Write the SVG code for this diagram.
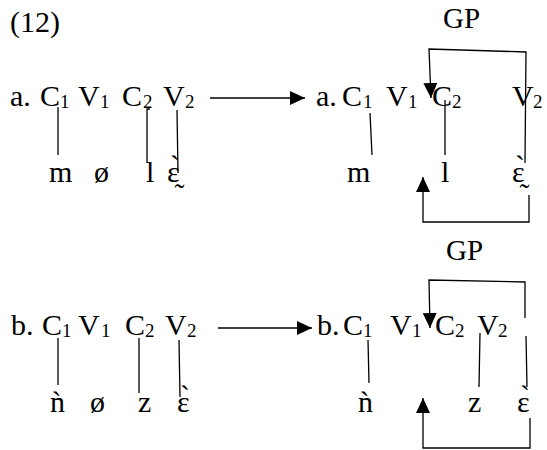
<svg xmlns="http://www.w3.org/2000/svg" width="547" height="450" viewBox="0 0 547 450">
<style>
text{font-family:"Liberation Serif","Times New Roman",serif;fill:#000}
.m{font-size:30px}
.s{font-size:19px}
.t{font-size:30px}
.g{font-size:29px}
line,path{stroke:#000;stroke-width:1.3;fill:none}
</style>
<defs>
<marker id="ah" markerUnits="userSpaceOnUse" markerWidth="16" markerHeight="16" viewBox="0 0 16 16" refX="15" refY="8" orient="auto">
<path d="M0,1 L15,8 L0,15 Z" style="fill:#000;stroke:none"/>
</marker>
</defs>
<rect width="547" height="450" fill="#fff"/>
<text class="t" x="10" y="32">(12)</text>

<g id="row-a-left">
<text class="m" x="10" y="106">a.</text>
<text class="m" x="40" y="106">C</text><text class="s" x="60" y="108">1</text>
<text class="m" x="78" y="106">V</text><text class="s" x="100" y="108">1</text>
<text class="m" x="122" y="106">C</text><text class="s" x="143" y="108">2</text>
<text class="m" x="163" y="106">V</text><text class="s" x="185" y="108">2</text>
<text class="m" x="49" y="182">m</text>
<text class="m" x="94" y="182">ø</text>
<text class="m" x="146" y="182">l</text>
<text class="m" x="167" y="182">ɛ̰̀</text>
</g>

<g id="row-a-right">
<text class="m" x="316" y="106">a.</text>
<text class="m" x="342" y="106">C</text><text class="s" x="363" y="108">1</text>
<text class="m" x="386" y="106">V</text><text class="s" x="408" y="108">1</text>
<text class="m" x="432" y="106">C</text><text class="s" x="452" y="108">2</text>
<text class="m" x="512" y="106">V</text><text class="s" x="533" y="108">2</text>
<text class="m" x="347" y="182">m</text>
<text class="m" x="441" y="182">l</text>
<text class="m" x="512" y="182">ɛ̰̀</text>
<text class="g" x="443" y="28">GP</text>
</g>

<g id="row-b-left">
<text class="m" x="11" y="335">b.</text>
<text class="m" x="42" y="335">C</text><text class="s" x="62" y="337">1</text>
<text class="m" x="78" y="335">V</text><text class="s" x="101" y="337">1</text>
<text class="m" x="125" y="335">C</text><text class="s" x="145" y="337">2</text>
<text class="m" x="165" y="335">V</text><text class="s" x="187" y="337">2</text>
<text class="m" x="50" y="412">ǹ</text>
<text class="m" x="90" y="412">ø</text>
<text class="m" x="138" y="412">z</text>
<text class="m" x="177" y="412">ɛ̀</text>
</g>

<g id="row-b-right">
<text class="m" x="317" y="335">b.</text>
<text class="m" x="343" y="335">C</text><text class="s" x="363" y="337">1</text>
<text class="m" x="390" y="335">V</text><text class="s" x="412" y="337">1</text>
<text class="m" x="435" y="335">C</text><text class="s" x="455" y="337">2</text>
<text class="m" x="477" y="335">V</text><text class="s" x="498" y="337">2</text>
<text class="m" x="358" y="412">ǹ</text>
<text class="m" x="468" y="412">z</text>
<text class="m" x="517" y="412">ɛ̀</text>
<text class="g" x="446" y="260">GP</text>
</g>

<g id="connectors">
<line x1="58" y1="107" x2="58" y2="155"/>
<path d="M150,109 L147,109 L147,163"/>
<line x1="177" y1="110" x2="178" y2="173"/>
<line x1="210" y1="98" x2="305" y2="98" marker-end="url(#ah)"/>
<line x1="370" y1="113" x2="372" y2="155"/>
<line x1="445" y1="100" x2="445" y2="155"/>
<path d="M525,163 L526,52 L429,49 L431,98" marker-end="url(#ah)"/>
<path d="M529,195 L529,222 L423,222 L423,177" marker-end="url(#ah)"/>

<line x1="58" y1="338" x2="58" y2="385"/>
<line x1="139" y1="338" x2="139" y2="393"/>
<line x1="179" y1="340" x2="180" y2="397"/>
<line x1="218" y1="328" x2="312" y2="328" marker-end="url(#ah)"/>
<line x1="368" y1="340" x2="369" y2="383"/>
<line x1="480" y1="333" x2="479" y2="387"/>
<path d="M525,318 L525,282 L429,280 L430,328" marker-end="url(#ah)"/>
<line x1="526" y1="336" x2="527" y2="387"/>
<path d="M530,418 L530,448 L423,448 L423,398" marker-end="url(#ah)"/>
</g>
</svg>
